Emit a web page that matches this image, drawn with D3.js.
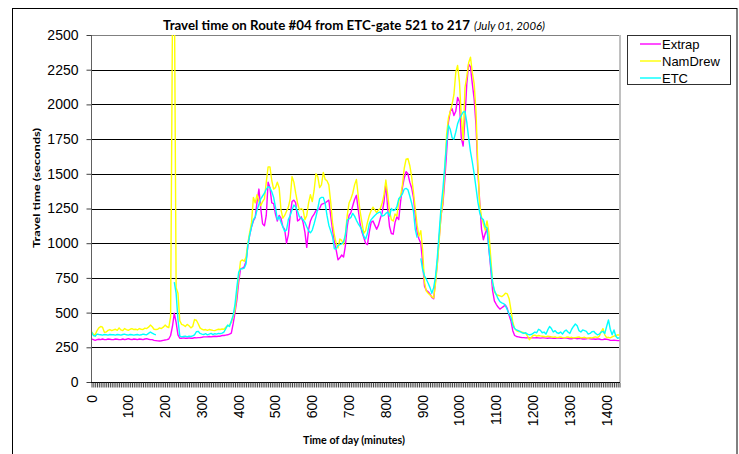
<!DOCTYPE html>
<html><head><meta charset="utf-8">
<script src="https://cdn.jsdelivr.net/npm/d3@7"></script>
<style>body{margin:0;background:#fff}svg{display:block}</style>
</head><body><svg id="c" width="739" height="454"></svg>
<script>
// categories: time of day in minutes, one every 5 minutes
const minutes = d3.range(0, 1440, 5);
const xLabels = [0,100,200,300,400,500,600,700,800,900,1000,1100,1200,1300,1400];
const yTicks = [0,250,500,750,1000,1250,1500,1750,2000,2250,2500];
const seriesNames = ["Extrap","NamDrew","ETC"];

const extrap = [
310,305,300,305,308,305,310,305,305,310,308,305,
305,310,308,305,305,310,305,308,312,308,305,310,
308,305,310,308,305,310,312,308,305,305,300,298,
296,295,297,300,303,305,310,335,400,495,430,340,
315,315,318,315,315,318,315,315,320,318,320,320,
322,325,325,325,328,325,328,330,328,330,330,335,
335,338,340,345,352,420,500,590,720,815,820,830,
870,980,1060,1119,1160,1185,1300,1390,1250,1140,1125,1200,
1440,1400,1290,1285,1210,1160,1200,1180,1120,1100,1000,1060,
1200,1300,1310,1290,1160,1170,1190,1150,1080,970,1100,1160,
1190,1210,1235,1240,1250,1280,1285,1290,1300,1310,1200,1100,
1010,950,880,895,915,900,980,1120,1200,1220,1270,1315,
1345,1240,1140,1080,1040,1000,990,1080,1150,1160,1130,1100,
1130,1180,1220,1300,1430,1250,1120,1070,1065,1150,1190,1170,
1300,1400,1470,1515,1500,1440,1400,1330,1200,1080,1030,1000,
860,690,660,650,635,610,600,730,860,1040,1200,1280,
1450,1650,1870,1950,1970,1920,1950,2050,2020,1760,1700,1900,
2150,2290,2270,2150,2040,1850,1520,1300,1100,1025,1070,1105,
960,820,660,585,560,540,525,535,545,555,530,480,
440,370,335,328,325,322,320,320,318,320,318,320,
318,318,320,318,316,318,318,316,315,318,316,315,
315,316,318,315,315,316,318,315,312,312,315,315,
312,315,313,310,310,312,315,312,310,310,308,310,
310,305,305,310,308,305,300,300,302,300,298,298];

const namDrew = [
363,345,340,370,390,400,395,358,360,372,378,370,
375,380,372,390,375,370,385,378,372,380,385,378,
380,375,385,380,378,388,385,395,410,398,380,378,
380,390,385,395,410,398,392,470,2600,2950,680,640,
440,415,410,400,415,405,390,400,450,445,420,390,
380,375,378,372,378,375,372,370,375,380,378,382,
380,395,405,410,430,470,520,640,760,870,880,870,
900,1000,1080,1150,1330,1290,1350,1300,1270,1300,1320,1440,
1550,1550,1450,1390,1400,1440,1400,1240,1180,1200,1230,1260,
1320,1480,1440,1360,1290,1240,1250,1240,1170,1200,1290,1350,
1300,1380,1500,1480,1400,1420,1510,1460,1450,1420,1300,1150,
1060,1000,965,1030,1020,990,1060,1200,1290,1320,1360,1420,
1460,1340,1230,1150,1070,1090,1150,1200,1235,1260,1240,1220,
1240,1250,1290,1350,1455,1350,1230,1170,1160,1210,1195,1300,
1340,1420,1540,1605,1610,1560,1480,1370,1250,1130,1050,1090,
950,720,655,640,627,615,605,710,850,1020,1200,1300,
1520,1780,1900,1950,2000,2070,2230,2280,2160,1920,1740,2120,
2200,2300,2340,2230,2150,1950,1560,1280,1190,1140,1095,1160,
1080,900,720,650,630,625,620,615,625,640,635,600,
520,430,385,370,363,365,360,355,350,330,305,320,
335,338,330,335,332,330,328,325,330,328,325,322,
325,320,322,325,320,318,322,325,320,322,318,320,
322,325,318,320,322,318,315,320,318,322,325,320,
330,360,385,340,320,322,318,325,330,335,340,338];

const etc = [
360,335,330,345,342,340,338,342,340,338,342,340,
340,338,342,340,338,342,345,340,338,342,340,338,
340,342,338,340,345,342,340,350,360,352,345,340,
null,null,null,null,null,null,null,null,null,720,640,450,
330,325,328,330,325,330,328,332,340,362,365,350,
345,342,348,340,345,350,342,348,345,350,348,352,
360,385,410,400,440,480,560,680,790,815,815,820,
850,990,1060,1119,1170,1190,1240,1280,1320,1340,1360,1390,
1407,1400,1370,1330,1260,1170,1190,1150,1119,1085,1095,1170,
1200,1240,1275,1260,1230,1191,1180,1170,1150,1119,1090,1075,
1095,1140,1190,1250,1320,1330,1330,1287,1200,1130,1090,1047,
960,960,985,990,995,1010,1060,1167,1175,1185,1215,1195,
1165,1140,1119,1095,1050,1030,1071,1140,1170,1185,1200,1212,
1220,1225,1195,1200,1215,1225,1195,1250,1235,1240,1263,1320,
1335,1355,1390,1395,1385,1340,1290,1230,1100,1040,null,890,
810,765,740,711,680,640,680,760,900,1080,1260,1390,
1550,1720,1850,1820,1760,1750,1800,1860,1895,1920,1945,1950,
1870,1760,1660,1585,1500,1400,1300,1220,1180,1170,1119,1110,
960,840,720,660,630,600,579,570,565,550,520,490,
465,410,385,375,370,363,355,350,355,345,340,342,
350,360,355,380,372,355,360,345,375,400,385,360,
370,355,350,360,345,365,375,360,350,380,400,418,
405,370,360,375,370,365,345,350,362,365,350,340,
345,360,365,350,400,447,380,340,375,330,315,320];

const colors = ["#ff00ff","#ffff00","#00ffff"];
const allSeries = [extrap, namDrew, etc];

const svg = d3.select("#c");
const L = 91, R = 620, T = 35, B = 382;
const x = d3.scaleLinear().domain([0, 1435]).range([91.5, 619.5]);
const y = d3.scaleLinear().domain([0, 2500]).range([B, T]);

// outer chart border
svg.append("rect").attr("x",12.5).attr("y",8.5).attr("width",724.5).attr("height",480)
  .attr("fill","none").attr("stroke","#000").attr("stroke-width",1);

// gridlines
svg.append("g").selectAll("line").data(yTicks.filter(d=>d>0)).join("line")
  .attr("x1",L).attr("x2",R)
  .attr("y1",d=>Math.round(y(d))+0.5).attr("y2",d=>Math.round(y(d))+0.5)
  .attr("stroke",d=>d===2500?"#808080":"#000").attr("stroke-width",1);

// right border of plot area
svg.append("line").attr("x1",R).attr("x2",R).attr("y1",T).attr("y2",B)
  .attr("stroke","#c0c0c0").attr("stroke-width",2);

// lines
svg.append("clipPath").attr("id","clip").append("rect")
  .attr("x",L).attr("y",T).attr("width",R-L).attr("height",B-T);
const line = d3.line().defined(d=>d[1]!=null).x(d=>x(d[0])).y(d=>y(d[1]));
const lg = svg.append("g").attr("clip-path","url(#clip)");
allSeries.forEach((s,i)=>{
  lg.append("path").datum(minutes.map((m,j)=>[m,s[j]]))
    .attr("d",line).attr("fill","none").attr("stroke",colors[i])
    .attr("stroke-width",1.4).attr("stroke-linejoin","round");
});

// y axis
const ya = svg.append("g").attr("transform",`translate(${L+0.5},0)`)
  .call(d3.axisLeft(y).tickValues(yTicks).tickSize(5).tickPadding(8).tickFormat(d=>d));
ya.select(".domain").attr("stroke","#606060").attr("d",`M0,${T}V${B}`);
ya.selectAll(".tick line").attr("stroke","#404040");
ya.selectAll("text").attr("font-family","Liberation Sans, Arial, sans-serif")
  .attr("font-size",14).attr("fill","#000");

// x axis with dense category ticks
const xa = svg.append("g").attr("transform",`translate(0,${B+0.5})`)
  .call(d3.axisBottom(x).tickValues(minutes).tickSize(5).tickFormat(""));
xa.select(".domain").attr("stroke","#000").attr("d",`M${L},0H${R}`);
xa.selectAll(".tick line").attr("stroke","#303030").attr("stroke-width",0.9);

// rotated x labels
svg.append("g").selectAll("text").data(xLabels).join("text")
  .attr("transform",d=>`translate(${x(d)},395) rotate(-90)`)
  .attr("text-anchor","end").attr("dominant-baseline","central")
  .attr("font-family","Liberation Sans, Arial, sans-serif").attr("font-size",14)
  .text(d=>d);

// title
svg.append("text").attr("x",163).attr("y",30)
  .attr("font-family","Lato, 'Open Sans', sans-serif").attr("font-weight","bold")
  .attr("font-size",12.5).attr("textLength",307).attr("lengthAdjust","spacingAndGlyphs")
  .text("Travel time on Route #04 from ETC-gate 521 to 217");
svg.append("text").attr("x",474).attr("y",30)
  .attr("font-family","Lato, 'Open Sans', sans-serif").attr("font-style","italic")
  .attr("font-size",10.5).attr("textLength",71).attr("lengthAdjust","spacingAndGlyphs")
  .text("(July 01, 2006)");

// axis titles
svg.append("text").attr("transform","translate(40,188) rotate(-90)")
  .attr("text-anchor","middle")
  .attr("font-family","Lato, 'Open Sans', sans-serif").attr("font-weight","bold")
  .attr("font-size",9.5).attr("textLength",120).attr("lengthAdjust","spacingAndGlyphs")
  .text("Travel time (seconds)");
svg.append("text").attr("x",354).attr("y",444).attr("text-anchor","middle")
  .attr("font-family","Lato, 'Open Sans', sans-serif").attr("font-weight","bold")
  .attr("font-size",10.5).attr("textLength",102).attr("lengthAdjust","spacingAndGlyphs")
  .text("Time of day (minutes)");

// legend
const leg = svg.append("g");
leg.append("rect").attr("x",627.5).attr("y",35.5).attr("width",103).attr("height",49)
  .attr("fill","#fff").attr("stroke","#303030");
seriesNames.forEach((n,i)=>{
  const yy = 44 + i*17;
  leg.append("line").attr("x1",640).attr("x2",661).attr("y1",yy).attr("y2",yy)
    .attr("stroke",colors[i]).attr("stroke-width",1.4);
  leg.append("text").attr("x",662).attr("y",yy).attr("dominant-baseline","central")
    .attr("font-family","Liberation Sans, Arial, sans-serif").attr("font-size",13)
    .text(n);
});
</script></body></html>
